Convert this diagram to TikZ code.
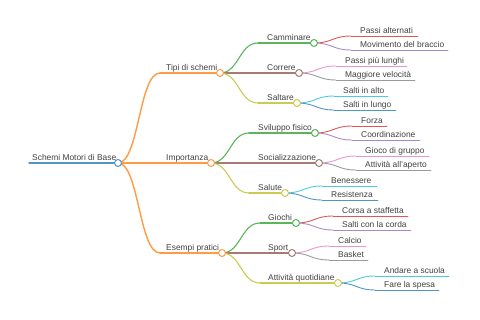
\documentclass[tikz,border=0pt]{standalone}
\usepackage{fontspec}
\setmainfont{Liberation Sans}
\usetikzlibrary{calc}
\definecolor{cblue0}{HTML}{1F77B4}
\definecolor{corange0}{HTML}{FF7F0E}
\definecolor{cgreen0}{HTML}{2CA02C}
\definecolor{cred0}{HTML}{D62728}
\definecolor{cpurple0}{HTML}{9467BD}
\definecolor{cbrown0}{HTML}{8C564B}
\definecolor{cpink0}{HTML}{E377C2}
\definecolor{cgray0}{HTML}{7F7F7F}
\definecolor{colive0}{HTML}{BCBD22}
\definecolor{ccyan0}{HTML}{17BECF}
\colorlet{cblue}{cblue0!78!white}
\colorlet{corange}{corange0!78!white}
\colorlet{cgreen}{cgreen0!78!white}
\colorlet{cred}{cred0!78!white}
\colorlet{cpurple}{cpurple0!78!white}
\colorlet{cbrown}{cbrown0!78!white}
\colorlet{cpink}{cpink0!78!white}
\colorlet{cgray}{cgray0!78!white}
\colorlet{colive}{colive0!78!white}
\colorlet{ccyan}{ccyan0!78!white}
\definecolor{ctext}{HTML}{404040}
\tikzset{
  lbl/.style={anchor=base west, inner sep=0pt, text=ctext, font=\fontsize{8.4}{9}\selectfont},
  d0/.style={line width=1.5pt},
  d1/.style={line width=1.4pt},
  d2/.style={line width=1.1pt},
  d3/.style={line width=0.9pt},
  knob/.style={circle, draw, fill=white, line width=1pt, minimum size=7pt, inner sep=0pt},
}
% name, start x, y, end x, text x, text
\newcommand\mmnode[6]{%
  \coordinate (#1s) at (#2,#3);
  \coordinate (#1e) at (#4,#3);
  \node[lbl] (#1t) at (#5,#3-2.6) {#6};
}
\newcommand\mmlink[3]{%
  \draw[#1] let \p1=(#2), \p2=(#3) in (#2) .. controls ({0.5*\x1+0.5*\x2},\y1) and ({0.5*\x1+0.5*\x2},\y2) .. (#3);
}
\begin{document}
\begin{tikzpicture}[x=1pt,y=-1pt,line cap=round]
\useasboundingbox (0,0) rectangle (480,320);
% nodes
\mmnode{root}{29}{163}{118}{32}{Schemi Motori di Base}
\mmnode{tipi}{160}{73}{220}{166}{Tipi di schemi}
\mmnode{imp}{160}{163}{211}{166}{Importanza}
\mmnode{esem}{160}{253}{222}{166}{Esempi pratici}
\mmnode{camm}{258}{43}{314}{267}{Camminare}
\mmnode{corr}{258}{73}{299}{267}{Correre}
\mmnode{salt}{258}{103}{297}{267}{Saltare}
\mmnode{svil}{249}{133}{315}{258}{Sviluppo fisico}
\mmnode{soc}{249}{163}{319}{258}{Socializzazione}
\mmnode{salu}{249}{193}{285}{258}{Salute}
\mmnode{gioc}{260}{223}{296}{268}{Giochi}
\mmnode{spor}{260}{253}{292}{268}{Sport}
\mmnode{att}{260}{283}{338}{268}{Attività quotidiane}
\mmnode{pa}{351}{36}{418}{360}{Passi alternati}
\mmnode{mdb}{351}{50}{448}{360}{Movimento del braccio}
\mmnode{ppl}{336}{66}{407}{345}{Passi più lunghi}
\mmnode{mv}{336}{80}{415}{345}{Maggiore velocità}
\mmnode{sia}{334}{96}{388}{343}{Salti in alto}
\mmnode{sil}{334}{110}{396}{343}{Salti in lungo}
\mmnode{forza}{352}{126}{387}{361}{Forza}
\mmnode{coord}{352}{140}{420}{361}{Coordinazione}
\mmnode{gdg}{356}{156}{429}{365}{Gioco di gruppo}
\mmnode{aaa}{356}{170}{431}{365}{Attività all'aperto}
\mmnode{ben}{322}{186}{377}{331}{Benessere}
\mmnode{res}{322}{200}{378}{331}{Resistenza}
\mmnode{cas}{333}{216}{408}{342}{Corsa a staffetta}
\mmnode{scc}{333}{230}{411}{342}{Salti con la corda}
\mmnode{calc}{329}{246}{366}{338}{Calcio}
\mmnode{bask}{329}{260}{368}{338}{Basket}
\mmnode{and}{375}{276}{449}{384}{Andare a scuola}
\mmnode{fare}{375}{290}{439}{384}{Fare la spesa}
% underlines
\draw[cblue,d0] (roots) -- (roote);
\foreach \n in {tipi,imp,esem} {\draw[corange,d1] (\n s) -- (\n e);}
\foreach \n in {camm,svil,gioc} {\draw[cgreen,d2] (\n s) -- (\n e);}
\foreach \n in {corr,soc,spor} {\draw[cbrown,d2] (\n s) -- (\n e);}
\foreach \n in {salt,salu,att} {\draw[colive,d2] (\n s) -- (\n e);}
\foreach \n in {pa,forza,cas} {\draw[cred,d3] (\n s) -- (\n e);}
\foreach \n in {mdb,coord,scc} {\draw[cpurple,d3] (\n s) -- (\n e);}
\foreach \n in {ppl,gdg,calc} {\draw[cpink,d3] (\n s) -- (\n e);}
\foreach \n in {mv,aaa,bask} {\draw[cgray,d3] (\n s) -- (\n e);}
\foreach \n in {sia,ben,and} {\draw[ccyan,d3] (\n s) -- (\n e);}
\foreach \n in {sil,res,fare} {\draw[cblue,d3] (\n s) -- (\n e);}
% links
\mmlink{corange,d1}{roote}{tipis}
\mmlink{corange,d1}{roote}{imps}
\mmlink{corange,d1}{roote}{esems}
\mmlink{cgreen,d2}{tipie}{camms}
\mmlink{cbrown,d2}{tipie}{corrs}
\mmlink{colive,d2}{tipie}{salts}
\mmlink{cgreen,d2}{impe}{svils}
\mmlink{cbrown,d2}{impe}{socs}
\mmlink{colive,d2}{impe}{salus}
\mmlink{cgreen,d2}{eseme}{giocs}
\mmlink{cbrown,d2}{eseme}{spors}
\mmlink{colive,d2}{eseme}{atts}
\mmlink{cred,d3}{camme}{pas}
\mmlink{cpurple,d3}{camme}{mdbs}
\mmlink{cpink,d3}{corre}{ppls}
\mmlink{cgray,d3}{corre}{mvs}
\mmlink{ccyan,d3}{salte}{sias}
\mmlink{cblue,d3}{salte}{sils}
\mmlink{cred,d3}{svile}{forzas}
\mmlink{cpurple,d3}{svile}{coords}
\mmlink{cpink,d3}{soce}{gdgs}
\mmlink{cgray,d3}{soce}{aaas}
\mmlink{ccyan,d3}{salue}{bens}
\mmlink{cblue,d3}{salue}{ress}
\mmlink{cred,d3}{gioce}{cass}
\mmlink{cpurple,d3}{gioce}{sccs}
\mmlink{cpink,d3}{spore}{calcs}
\mmlink{cgray,d3}{spore}{basks}
\mmlink{ccyan,d3}{atte}{ands}
\mmlink{cblue,d3}{atte}{fares}
% knobs
\node[knob,draw=cblue] (rootk) at (roote) {};
\foreach \n in {tipi,imp,esem} {\node[knob,draw=corange] (\n k) at (\n e) {};}
\foreach \n in {camm,svil,gioc} {\node[knob,draw=cgreen] (\n k) at (\n e) {};}
\foreach \n in {corr,soc,spor} {\node[knob,draw=cbrown] (\n k) at (\n e) {};}
\foreach \n in {salt,salu,att} {\node[knob,draw=colive] (\n k) at (\n e) {};}
\end{tikzpicture}
\end{document}
